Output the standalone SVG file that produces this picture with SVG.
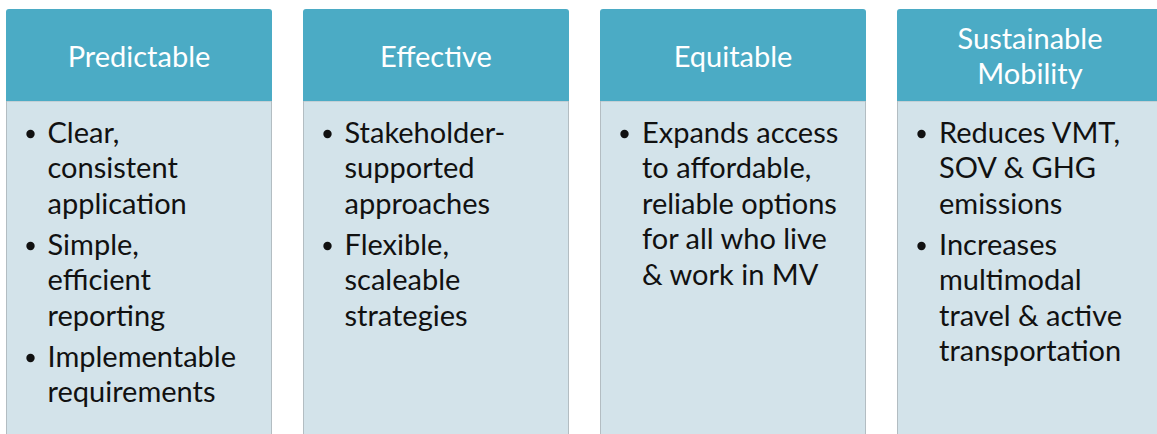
<svg xmlns="http://www.w3.org/2000/svg" width="1157" height="434" viewBox="0 0 1157 434">
  <style>
    .head { fill: #4BABC5; }
    .body { fill: #D3E3EA; stroke: #B3BDC2; stroke-width: 1; }
    .title { font-family: Lato, "Open Sans", "Liberation Sans", sans-serif; font-size: 29px; fill: #FFFFFF; text-anchor: middle; }
    .item { font-family: Lato, "Open Sans", "Liberation Sans", sans-serif; font-size: 29px; fill: #111111; }
    .dot { fill: #111111; }
  </style>
  <defs>
    <!-- header block with rounded top corners -->
    <path id="hdr" d="M0,101 V12 Q0,9 3,9 H263 Q266,9 266,12 V101 Z"/>
  </defs>
  <rect width="1157" height="434" fill="#FFFFFF"/>

  <g id="predictable">
    <rect class="body" x="6.5" y="101" width="265" height="345"/>
    <use href="#hdr" class="head" x="6"/>
    <text class="title" x="139" y="66.5">Predictable</text>
    <circle class="dot" cx="30.5" cy="134" r="4.2"/>
    <text class="item" x="47.5" y="142.5">Clear,</text>
    <text class="item" x="47.5" y="178">consistent</text>
    <text class="item" x="47.5" y="213.5">application</text>
    <circle class="dot" cx="30.5" cy="246" r="4.2"/>
    <text class="item" x="47.5" y="254.5">Simple,</text>
    <text class="item" x="47.5" y="290">efficient</text>
    <text class="item" x="47.5" y="325.5">reporting</text>
    <circle class="dot" cx="30.5" cy="358" r="4.2"/>
    <text class="item" x="47.5" y="366.5">Implementable</text>
    <text class="item" x="47.5" y="402">requirements</text>
  </g>

  <g id="effective">
    <rect class="body" x="303.5" y="101" width="265" height="345"/>
    <use href="#hdr" class="head" x="303"/>
    <text class="title" x="436" y="66.5">Effective</text>
    <circle class="dot" cx="327.5" cy="134" r="4.2"/>
    <text class="item" x="344.5" y="142.5">Stakeholder-</text>
    <text class="item" x="344.5" y="178">supported</text>
    <text class="item" x="344.5" y="213.5">approaches</text>
    <circle class="dot" cx="327.5" cy="246" r="4.2"/>
    <text class="item" x="344.5" y="254.5">Flexible,</text>
    <text class="item" x="344.5" y="290">scaleable</text>
    <text class="item" x="344.5" y="325.5">strategies</text>
  </g>

  <g id="equitable">
    <rect class="body" x="600.5" y="101" width="265" height="345"/>
    <use href="#hdr" class="head" x="600"/>
    <text class="title" x="733" y="66.5">Equitable</text>
    <circle class="dot" cx="624.5" cy="134" r="4.2"/>
    <text class="item" x="642" y="142.5">Expands access</text>
    <text class="item" x="642" y="178">to affordable,</text>
    <text class="item" x="642" y="213.5">reliable options</text>
    <text class="item" x="642" y="249">for all who live</text>
    <text class="item" x="642" y="284.5">&amp; work in MV</text>
  </g>

  <g id="sustainable-mobility">
    <rect class="body" x="897.5" y="101" width="265" height="345"/>
    <use href="#hdr" class="head" x="897"/>
    <text class="title" x="1030" y="48.5">Sustainable</text>
    <text class="title" x="1030" y="83.5">Mobility</text>
    <circle class="dot" cx="921.5" cy="134" r="4.2"/>
    <text class="item" x="939" y="142.5">Reduces VMT,</text>
    <text class="item" x="939" y="178">SOV &amp; GHG</text>
    <text class="item" x="939" y="213.5">emissions</text>
    <circle class="dot" cx="921.5" cy="246" r="4.2"/>
    <text class="item" x="939" y="254.5">Increases</text>
    <text class="item" x="939" y="290">multimodal</text>
    <text class="item" x="939" y="325.5">travel &amp; active</text>
    <text class="item" x="939" y="361">transportation</text>
  </g>

  <g id="connectors"/>
</svg>
